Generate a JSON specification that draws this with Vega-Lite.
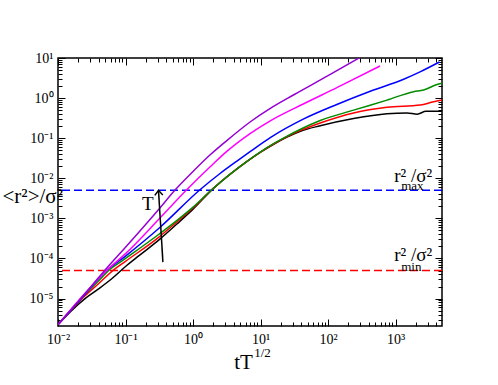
{
  "$schema": "https://vega.github.io/schema/vega-lite/v6.json",
  "width": 384,
  "height": 268,
  "autosize": {"type": "none"},
  "padding": {"left": 58, "top": 58, "right": 56, "bottom": 59},
  "background": "white",
  "config": {
    "font": "Liberation Serif",
    "view": {"stroke": "#000", "strokeWidth": 1.5},
    "text": {"font": "Liberation Serif", "color": "#000"}
  },
  "datasets": {
    "curves": [
      {"s": "black", "x": 0.01, "y": 2.239e-6},
      {"s": "black", "x": 0.01585, "y": 5.012e-6},
      {"s": "black", "x": 0.02512, "y": 1e-5},
      {"s": "black", "x": 0.03981, "y": 1.738e-5},
      {"s": "black", "x": 0.0631, "y": 3.162e-5},
      {"s": "black", "x": 0.1, "y": 6.31e-5},
      {"s": "black", "x": 0.1585, "y": 1.175e-4},
      {"s": "black", "x": 0.3162, "y": 2.951e-4},
      {"s": "black", "x": 0.631, "y": 8.318e-4},
      {"s": "black", "x": 1, "y": 1.698e-3},
      {"s": "black", "x": 1.905, "y": 5.129e-3},
      {"s": "black", "x": 3.548, "y": 1.259e-2},
      {"s": "black", "x": 6.31, "y": 2.63e-2},
      {"s": "black", "x": 10, "y": 4.467e-2},
      {"s": "black", "x": 15.85, "y": 7.161e-2},
      {"s": "black", "x": 25.12, "y": 0.1084},
      {"s": "black", "x": 39.81, "y": 0.1514},
      {"s": "black", "x": 76.56, "y": 0.2042},
      {"s": "black", "x": 238.8, "y": 0.309},
      {"s": "black", "x": 746.4, "y": 0.4074},
      {"s": "black", "x": 1476, "y": 0.4266},
      {"s": "black", "x": 2089, "y": 0.3981},
      {"s": "black", "x": 2818, "y": 0.4677},
      {"s": "black", "x": 4860, "y": 0.4677},
      {"s": "red", "x": 0.01, "y": 2.239e-6},
      {"s": "red", "x": 0.02512, "y": 1.175e-5},
      {"s": "red", "x": 0.03981, "y": 2.344e-5},
      {"s": "red", "x": 0.06607, "y": 5.129e-5},
      {"s": "red", "x": 0.1, "y": 8.511e-5},
      {"s": "red", "x": 0.3162, "y": 3.467e-4},
      {"s": "red", "x": 0.631, "y": 9.333e-4},
      {"s": "red", "x": 1, "y": 1.82e-3},
      {"s": "red", "x": 1.905, "y": 5.248e-3},
      {"s": "red", "x": 3.548, "y": 1.271e-2},
      {"s": "red", "x": 6.31, "y": 2.655e-2},
      {"s": "red", "x": 10, "y": 4.508e-2},
      {"s": "red", "x": 15.85, "y": 7.261e-2},
      {"s": "red", "x": 25.12, "y": 0.1109},
      {"s": "red", "x": 39.81, "y": 0.1585},
      {"s": "red", "x": 76.56, "y": 0.2399},
      {"s": "red", "x": 238.8, "y": 0.4266},
      {"s": "red", "x": 746.4, "y": 0.5888},
      {"s": "red", "x": 2323, "y": 0.6683},
      {"s": "red", "x": 3656, "y": 0.8128},
      {"s": "red", "x": 4860, "y": 0.8913},
      {"s": "green", "x": 0.01, "y": 2.239e-6},
      {"s": "green", "x": 0.02512, "y": 1.259e-5},
      {"s": "green", "x": 0.03981, "y": 2.754e-5},
      {"s": "green", "x": 0.05623, "y": 5.012e-5},
      {"s": "green", "x": 0.1, "y": 1e-4},
      {"s": "green", "x": 0.3162, "y": 4.074e-4},
      {"s": "green", "x": 0.631, "y": 1e-3},
      {"s": "green", "x": 1, "y": 1.905e-3},
      {"s": "green", "x": 1.905, "y": 5.248e-3},
      {"s": "green", "x": 3.548, "y": 1.271e-2},
      {"s": "green", "x": 6.31, "y": 2.655e-2},
      {"s": "green", "x": 10, "y": 4.571e-2},
      {"s": "green", "x": 15.85, "y": 7.413e-2},
      {"s": "green", "x": 25.12, "y": 0.1148},
      {"s": "green", "x": 39.81, "y": 0.1698},
      {"s": "green", "x": 76.56, "y": 0.2754},
      {"s": "green", "x": 238.8, "y": 0.5012},
      {"s": "green", "x": 746.4, "y": 0.8913},
      {"s": "green", "x": 1849, "y": 1.445},
      {"s": "green", "x": 2600, "y": 1.585},
      {"s": "green", "x": 4102, "y": 2.188},
      {"s": "green", "x": 4860, "y": 2.344},
      {"s": "blue", "x": 0.01, "y": 2.239e-6},
      {"s": "blue", "x": 0.02512, "y": 1.288e-5},
      {"s": "blue", "x": 0.05012, "y": 4.677e-5},
      {"s": "blue", "x": 0.1, "y": 1.148e-4},
      {"s": "blue", "x": 0.3162, "y": 5.754e-4},
      {"s": "blue", "x": 1.279, "y": 5.248e-3},
      {"s": "blue", "x": 2.512, "y": 1.318e-2},
      {"s": "blue", "x": 4.467, "y": 2.692e-2},
      {"s": "blue", "x": 7.079, "y": 4.677e-2},
      {"s": "blue", "x": 14.13, "y": 0.1047},
      {"s": "blue", "x": 43.65, "y": 0.302},
      {"s": "blue", "x": 134.9, "y": 0.6918},
      {"s": "blue", "x": 421.7, "y": 1.479},
      {"s": "blue", "x": 1318, "y": 2.951},
      {"s": "blue", "x": 2344, "y": 4.571},
      {"s": "blue", "x": 4467, "y": 7.943},
      {"s": "magenta", "x": 0.01, "y": 2.239e-6},
      {"s": "magenta", "x": 0.02512, "y": 1.349e-5},
      {"s": "magenta", "x": 0.05012, "y": 4.677e-5},
      {"s": "magenta", "x": 0.1, "y": 1.318e-4},
      {"s": "magenta", "x": 0.3162, "y": 9.772e-4},
      {"s": "magenta", "x": 0.8128, "y": 5.248e-3},
      {"s": "magenta", "x": 1.778, "y": 1.905e-2},
      {"s": "magenta", "x": 3.162, "y": 4.677e-2},
      {"s": "magenta", "x": 7.079, "y": 0.1318},
      {"s": "magenta", "x": 14.13, "y": 0.2754},
      {"s": "magenta", "x": 43.65, "y": 0.7244},
      {"s": "magenta", "x": 134.9, "y": 1.82},
      {"s": "magenta", "x": 588.8, "y": 6.31},
      {"s": "purple", "x": 0.01, "y": 2.239e-6},
      {"s": "purple", "x": 0.03162, "y": 2.089e-5},
      {"s": "purple", "x": 0.05012, "y": 5.248e-5},
      {"s": "purple", "x": 0.1, "y": 1.905e-4},
      {"s": "purple", "x": 0.3162, "y": 1.738e-3},
      {"s": "purple", "x": 0.537, "y": 5.012e-3},
      {"s": "purple", "x": 1, "y": 1.479e-2},
      {"s": "purple", "x": 1.778, "y": 3.802e-2},
      {"s": "purple", "x": 3.162, "y": 8.71e-2},
      {"s": "purple", "x": 7.079, "y": 0.257},
      {"s": "purple", "x": 14.13, "y": 0.5623},
      {"s": "purple", "x": 31.62, "y": 1.23},
      {"s": "purple", "x": 100, "y": 3.631},
      {"s": "purple", "x": 316.2, "y": 10.96}
    ],
    "bigText": [
      {"x": 0.175, "y": 1.62e-3, "label": "T"},
      {"x": 952, "y": 8.3e-3, "label": "r² /σ²"},
      {"x": 952, "y": 8.5e-5, "label": "r² /σ²"}
    ],
    "smallText": [
      {"x": 1211, "y": 5.0e-3, "label": "max"},
      {"x": 1211, "y": 5.0e-5, "label": "min"},
      {"x": 8.05, "y": 3.5e-7, "label": "1/2"}
    ]
  },
  "resolve": {"axis": {"x": "independent", "y": "independent"}},
  "layer": [
    {
      "data": {"values": [{"y": 5e-3}]},
      "mark": {"type": "rule", "color": "#0000ff", "strokeWidth": 1.5, "strokeDash": [8, 4]},
      "encoding": {
        "y": {"field": "y", "type": "quantitative", "scale": {"type": "log", "domain": [2.07e-6, 10]}, "axis": null}
      }
    },
    {
      "data": {"values": [{"y": 5e-5}]},
      "mark": {"type": "rule", "color": "#ff0000", "strokeWidth": 1.5, "strokeDash": [8, 4]},
      "encoding": {
        "y": {"field": "y", "type": "quantitative", "scale": {"type": "log", "domain": [2.07e-6, 10]}, "axis": null}
      }
    },
    {
      "data": {"name": "curves"},
      "mark": {"type": "line", "strokeWidth": 1.5, "interpolate": "monotone", "clip": true},
      "encoding": {
        "x": {
          "field": "x", "type": "quantitative",
          "scale": {"type": "log", "domain": [0.01, 4870]},
          "axis": {
            "orient": "bottom",
            "values": [0.01,0.02,0.03,0.04,0.05,0.06,0.07,0.08,0.09,0.1,0.2,0.3,0.4,0.5,0.6,0.7,0.8,0.9,1,2,3,4,5,6,7,8,9,10,20,30,40,50,60,70,80,90,100,200,300,400,500,600,700,800,900,1000,2000,3000,4000],
            "tickSize": {"condition": {"test": "abs(log(datum.value)/LN10 - round(log(datum.value)/LN10)) < 0.001", "value": -7}, "value": -4},
            "tickColor": "#000", "tickWidth": 1,
            "labelExpr": "abs(log(datum.value)/LN10 - round(log(datum.value)/LN10)) < 0.001 ? '10' + (datum.value < 0.5 ? '⁻' : '') + substring('⁰¹²³⁴⁵⁶⁷⁸⁹', abs(round(log(datum.value)/LN10)), abs(round(log(datum.value)/LN10)) + 1) : ''",
            "labelFont": "Liberation Serif", "labelFontSize": 14, "labelColor": "#000",
            "labelPadding": 13, "labelBaseline": "top", "labelFlush": false, "labelOverlap": false, "labelBound": false,
            "domain": false, "grid": false,
            "title": "tT", "titleFont": "Liberation Serif", "titleFontSize": 21, "titleFontWeight": "normal", "titleColor": "#000",
            "titleX": 185, "titleY": 42, "titleAlign": "center", "titleBaseline": "alphabetic"
          }
        },
        "y": {
          "field": "y", "type": "quantitative",
          "scale": {"type": "log", "domain": [2.07e-6, 10]},
          "axis": {
            "orient": "left",
            "values": [3e-6,4e-6,5e-6,6e-6,7e-6,8e-6,9e-6,1e-5,2e-5,3e-5,4e-5,5e-5,6e-5,7e-5,8e-5,9e-5,1e-4,2e-4,3e-4,4e-4,5e-4,6e-4,7e-4,8e-4,9e-4,1e-3,2e-3,3e-3,4e-3,5e-3,6e-3,7e-3,8e-3,9e-3,0.01,0.02,0.03,0.04,0.05,0.06,0.07,0.08,0.09,0.1,0.2,0.3,0.4,0.5,0.6,0.7,0.8,0.9,1,2,3,4,5,6,7,8,9,10],
            "tickSize": {"condition": {"test": "abs(log(datum.value)/LN10 - round(log(datum.value)/LN10)) < 0.001", "value": -7}, "value": -4},
            "tickColor": "#000", "tickWidth": 1,
            "labelExpr": "abs(log(datum.value)/LN10 - round(log(datum.value)/LN10)) < 0.001 ? '10' + (datum.value < 0.5 ? '⁻' : '') + substring('⁰¹²³⁴⁵⁶⁷⁸⁹', abs(round(log(datum.value)/LN10)), abs(round(log(datum.value)/LN10)) + 1) : ''",
            "labelFont": "Liberation Serif", "labelFontSize": 14, "labelColor": "#000",
            "labelPadding": 12, "labelBaseline": "middle", "labelFlush": false, "labelOverlap": false, "labelBound": false,
            "domain": false, "grid": false,
            "title": "<r²>/σ²", "titleFont": "Liberation Serif", "titleFontSize": 21, "titleFontWeight": "normal", "titleColor": "#000",
            "titleAngle": 0, "titleX": -56, "titleY": 144, "titleAlign": "left", "titleBaseline": "alphabetic"
          }
        },
        "color": {
          "field": "s", "type": "nominal", "legend": null,
          "scale": {"domain": ["black", "red", "green", "blue", "magenta", "purple"], "range": ["#000000", "#ff0000", "#008b00", "#0000ff", "#ff00ff", "#9400d3"]}
        }
      }
    },
    {
      "data": {"values": [{"x": 0.358, "y": 8.1e-5, "x2": 0.308, "y2": 5.0e-3}]},
      "mark": {"type": "rule", "color": "#000", "strokeWidth": 1.5},
      "encoding": {
        "x": {
          "field": "x", "type": "quantitative",
          "scale": {"type": "log", "domain": [0.01, 4870]},
          "axis": {
            "orient": "top",
            "values": [0.01,0.02,0.03,0.04,0.05,0.06,0.07,0.08,0.09,0.1,0.2,0.3,0.4,0.5,0.6,0.7,0.8,0.9,1,2,3,4,5,6,7,8,9,10,20,30,40,50,60,70,80,90,100,200,300,400,500,600,700,800,900,1000,2000,3000,4000],
            "tickSize": {"condition": {"test": "abs(log(datum.value)/LN10 - round(log(datum.value)/LN10)) < 0.001", "value": -7}, "value": -4},
            "tickColor": "#000", "tickWidth": 1,
            "labels": false, "domain": false, "grid": false, "title": null
          }
        },
        "y": {
          "field": "y", "type": "quantitative",
          "scale": {"type": "log", "domain": [2.07e-6, 10]},
          "axis": {
            "orient": "right",
            "values": [3e-6,4e-6,5e-6,6e-6,7e-6,8e-6,9e-6,1e-5,2e-5,3e-5,4e-5,5e-5,6e-5,7e-5,8e-5,9e-5,1e-4,2e-4,3e-4,4e-4,5e-4,6e-4,7e-4,8e-4,9e-4,1e-3,2e-3,3e-3,4e-3,5e-3,6e-3,7e-3,8e-3,9e-3,0.01,0.02,0.03,0.04,0.05,0.06,0.07,0.08,0.09,0.1,0.2,0.3,0.4,0.5,0.6,0.7,0.8,0.9,1,2,3,4,5,6,7,8,9,10],
            "tickSize": {"condition": {"test": "abs(log(datum.value)/LN10 - round(log(datum.value)/LN10)) < 0.001", "value": -7}, "value": -4},
            "tickColor": "#000", "tickWidth": 1,
            "labels": false, "domain": false, "grid": false, "title": null
          }
        },
        "x2": {"field": "x2"},
        "y2": {"field": "y2"}
      }
    },
    {
      "data": {"values": [{"x": 0.308, "y": 5.0e-3}]},
      "mark": {"type": "point", "shape": "M-1,1.2L0,0L1,1.2", "filled": false, "stroke": "#000", "strokeWidth": 1.5, "size": 64, "angle": -3.5, "opacity": 1},
      "encoding": {
        "x": {"field": "x", "type": "quantitative", "scale": {"type": "log", "domain": [0.01, 4870]}, "axis": null},
        "y": {"field": "y", "type": "quantitative", "scale": {"type": "log", "domain": [2.07e-6, 10]}, "axis": null}
      }
    },
    {
      "data": {"name": "bigText"},
      "mark": {"type": "text", "fontSize": 19, "align": "left", "baseline": "alphabetic", "font": "Liberation Serif", "color": "#000"},
      "encoding": {
        "x": {"field": "x", "type": "quantitative", "scale": {"type": "log", "domain": [0.01, 4870]}, "axis": null},
        "y": {"field": "y", "type": "quantitative", "scale": {"type": "log", "domain": [2.07e-6, 10]}, "axis": null},
        "text": {"field": "label"}
      }
    },
    {
      "data": {"name": "smallText"},
      "mark": {"type": "text", "fontSize": 13, "align": "left", "baseline": "alphabetic", "font": "Liberation Serif", "color": "#000"},
      "encoding": {
        "x": {"field": "x", "type": "quantitative", "scale": {"type": "log", "domain": [0.01, 4870]}, "axis": null},
        "y": {"field": "y", "type": "quantitative", "scale": {"type": "log", "domain": [2.07e-6, 10]}, "axis": null},
        "text": {"field": "label"}
      }
    }
  ]
}
